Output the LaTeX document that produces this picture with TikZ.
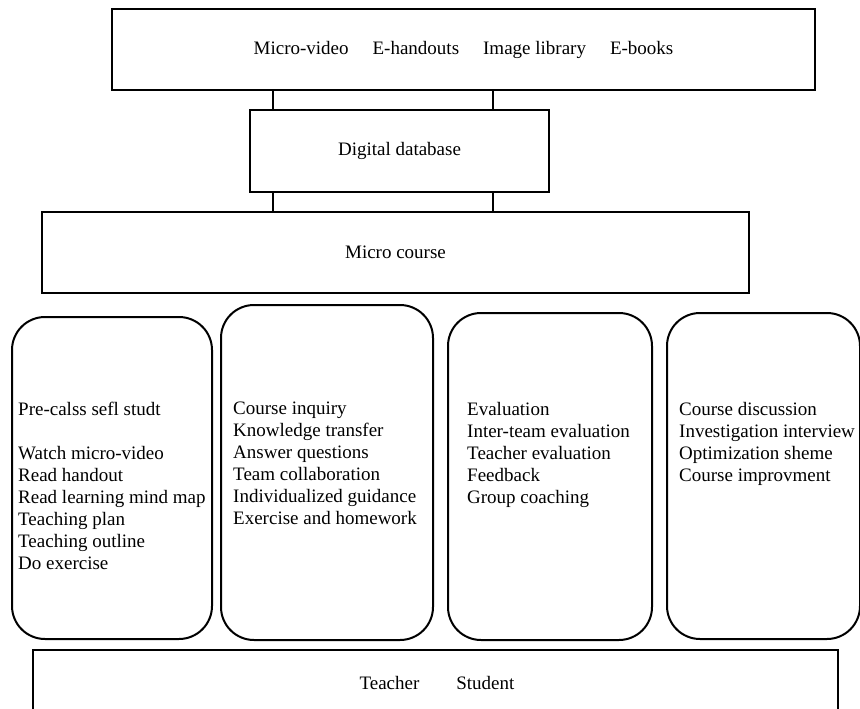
\documentclass[tikz,border=0pt]{standalone}
\usepackage{fontspec}
\setmainfont{Liberation Serif}
\usepackage{tikz}
\usetikzlibrary{calc,positioning}

\begin{document}
\begin{tikzpicture}[x=1pt,y=-1pt,
  every node/.style={font=\fontsize{19}{22}\selectfont},
  box/.style={draw,line width=2pt,inner sep=0pt},
  stage/.style={draw,line width=2pt,rounded corners=33pt,inner sep=0pt},
  items/.style={align=left,anchor=north west,inner sep=0pt}]
\useasboundingbox (0,0) rectangle (860,709);
\node[box,minimum width=703pt,minimum height=81pt] (res) at (463.5,49.5) {Micro-video\hspace{24pt}E-handouts\hspace{24pt}Image library\hspace{24pt}E-books};
\node[box,minimum width=299pt,minimum height=82pt] (db) at (399.5,151) {Digital database};
\node[box,minimum width=707pt,minimum height=81pt] (mc) at (395.5,252.5) {Micro course};
\coordinate (linkA) at (273,0);
\coordinate (linkB) at (493,0);
\draw[line width=2pt] (res.south -| linkA) -- (db.north -| linkA);
\draw[line width=2pt] (res.south -| linkB) -- (db.north -| linkB);
\draw[line width=2pt] (db.south -| linkA) -- (mc.north -| linkA);
\draw[line width=2pt] (db.south -| linkB) -- (mc.north -| linkB);
\node[stage,minimum width=200pt,minimum height=322pt] (pre) at (112,478) {};
\node[stage,minimum width=212pt,minimum height=335pt] (cls) at (327,472.5) {};
\node[stage,minimum width=204pt,minimum height=327pt] (eva) at (550,476.5) {};
\node[stage,minimum width=193pt,minimum height=326pt] (imp) at (763.5,476) {};
\node[items] (preT) at (18,402) {Pre-calss sefl studt\\[22pt]Watch micro-video\\Read handout\\Read learning mind map\\Teaching plan\\Teaching outline\\Do exercise};
\node[items] (clsT) at (233,402) {Course inquiry\\Knowledge transfer\\Answer questions\\Team collaboration\\Individualized guidance\\Exercise and homework};
\node[items] (evaT) at (467,402) {Evaluation\\Inter-team evaluation\\Teacher evaluation\\Feedback\\Group coaching};
\node[items] (impT) at (679,402) {Course discussion\\Investigation interview\\Optimization sheme\\Course improvment};
\node[box,minimum width=805pt,minimum height=120pt,anchor=north] (users) at (435.5,649) {};
\node (who) at (437,683) {Teacher\hspace{37pt}Student};
\end{tikzpicture}
\end{document}
